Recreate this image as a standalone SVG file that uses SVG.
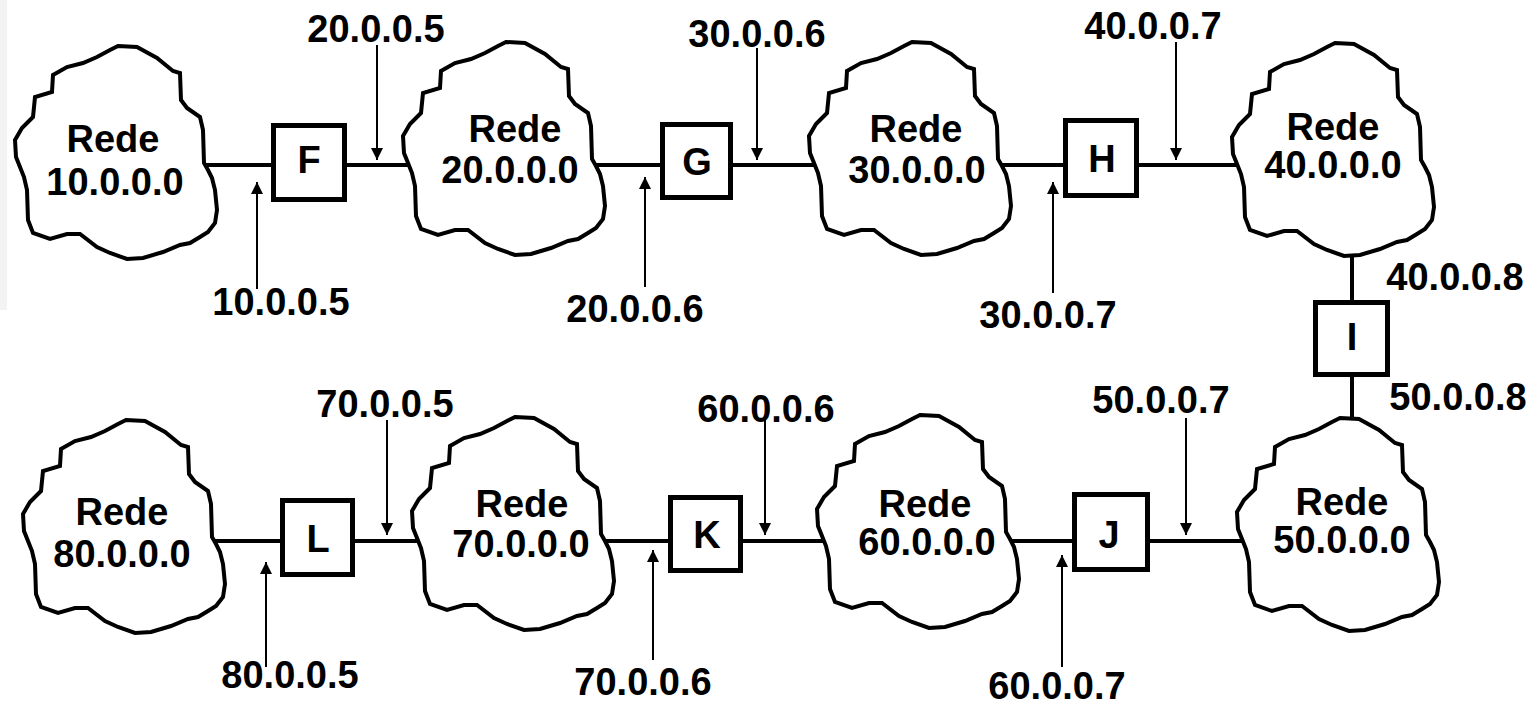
<svg xmlns="http://www.w3.org/2000/svg" xmlns:xlink="http://www.w3.org/1999/xlink" width="1537" height="706" viewBox="0 0 1537 706">
<style>
  .cloud{fill:#fff;stroke:#000;stroke-width:4;stroke-linejoin:miter}
  .box{fill:#fff;stroke:#000;stroke-width:5}
  .link{stroke:#000;stroke-width:4;fill:none}
  .arr{stroke:#000;stroke-width:2;fill:none;marker-end:url(#ah)}
  text{font-family:"Liberation Sans",Arial,sans-serif;font-weight:bold;font-size:38px;text-anchor:middle;fill:#000}
</style>
<defs>
  <marker id="ah" markerUnits="userSpaceOnUse" markerWidth="12" markerHeight="12" viewBox="0 0 12 12" refX="12" refY="6" orient="auto">
    <path d="M0,0 L12,6 L0,12 Z" fill="#000"/>
  </marker>
  <path id="cloud" class="cloud" d="M118,46 L137,47 L157,58 L173,71 L180,73 L181,100 L187,108 L200,117 L203,130 L204,163 L208,170 L212,178 L215,190 L217,210 L215,223 L208,232 L200,237 L190,243 L180,245 L163,252 L143,258 L127,259 L110,253 L97,247 L80,234 L67,234 L50,239 L33,233 L28,220 L27,190 L24,177 L20,167 L16,157 L15,140 L22,128 L33,117 L35,97 L52,92 L53,75 L67,67 L83,63 L97,57 L110,50 Z"/>
</defs>
<rect x="0" y="0" width="7" height="310" fill="#f3f3f3"/>
<g id="connectors">
  <line class="link" x1="190" y1="165" x2="300" y2="165"/>
  <line class="link" x1="310" y1="165" x2="430" y2="165"/>
  <line class="link" x1="580" y1="165" x2="700" y2="165"/>
  <line class="link" x1="700" y1="165" x2="840" y2="165"/>
  <line class="link" x1="985" y1="165" x2="1100" y2="165"/>
  <line class="link" x1="1100" y1="165" x2="1255" y2="165"/>
  <line class="link" x1="1352" y1="240" x2="1352" y2="340"/>
  <line class="link" x1="1352" y1="340" x2="1352" y2="440"/>
  <line class="link" x1="200" y1="541" x2="317" y2="541"/>
  <line class="link" x1="317" y1="541" x2="440" y2="541"/>
  <line class="link" x1="590" y1="541" x2="705" y2="541"/>
  <line class="link" x1="705" y1="541" x2="845" y2="541"/>
  <line class="link" x1="995" y1="541" x2="1111" y2="541"/>
  <line class="link" x1="1111" y1="541" x2="1265" y2="541"/>
  <line class="arr" x1="377" y1="45" x2="377" y2="160"/>
  <line class="arr" x1="757" y1="48" x2="757" y2="160"/>
  <line class="arr" x1="1176" y1="42" x2="1176" y2="160"/>
  <line class="arr" x1="387" y1="420" x2="387" y2="535"/>
  <line class="arr" x1="765" y1="420" x2="765" y2="535"/>
  <line class="arr" x1="1186" y1="418" x2="1186" y2="535"/>
  <line class="arr" x1="257" y1="289" x2="257" y2="182"/>
  <line class="arr" x1="645" y1="287" x2="645" y2="177"/>
  <line class="arr" x1="1053" y1="293" x2="1053" y2="182"/>
  <line class="arr" x1="266" y1="667" x2="266" y2="562"/>
  <line class="arr" x1="653" y1="660" x2="653" y2="550"/>
  <line class="arr" x1="1062" y1="667" x2="1062" y2="555"/>
</g>
<g id="rede10">
  <use xlink:href="#cloud"/>
  <text x="113" y="152">Rede</text>
  <text x="115" y="195">10.0.0.0</text>
</g>
<g id="rede20">
  <use xlink:href="#cloud" transform="translate(388,-4)"/>
  <text x="515" y="142">Rede</text>
  <text x="510" y="183">20.0.0.0</text>
</g>
<g id="rede30">
  <use xlink:href="#cloud" transform="translate(794,-4)"/>
  <text x="916" y="142">Rede</text>
  <text x="917" y="183">30.0.0.0</text>
</g>
<g id="rede40">
  <use xlink:href="#cloud" transform="translate(1217,-3)"/>
  <text x="1333" y="140">Rede</text>
  <text x="1333" y="178">40.0.0.0</text>
</g>
<g id="rede50">
  <use xlink:href="#cloud" transform="translate(1222,372)"/>
  <text x="1342" y="515">Rede</text>
  <text x="1342" y="553">50.0.0.0</text>
</g>
<g id="rede60">
  <use xlink:href="#cloud" transform="translate(802,369)"/>
  <text x="925" y="517">Rede</text>
  <text x="927" y="555">60.0.0.0</text>
</g>
<g id="rede70">
  <use xlink:href="#cloud" transform="translate(397,371)"/>
  <text x="522" y="517">Rede</text>
  <text x="521" y="557">70.0.0.0</text>
</g>
<g id="rede80">
  <use xlink:href="#cloud" transform="translate(8,374)"/>
  <text x="122" y="525">Rede</text>
  <text x="122" y="567">80.0.0.0</text>
</g>
<g id="F"><rect class="box" x="273.5" y="125.5" width="71" height="74"/><text x="309" y="173">F</text></g>
<g id="G"><rect class="box" x="662.5" y="124.5" width="68" height="73"/><text x="697" y="175">G</text></g>
<g id="H"><rect class="box" x="1065.5" y="120.5" width="71" height="75"/><text x="1102" y="172">H</text></g>
<g id="I"><rect class="box" x="1315.5" y="302.5" width="72" height="72"/><text x="1352" y="350">I</text></g>
<g id="J"><rect class="box" x="1074.5" y="494.5" width="73" height="75"/><text x="1109" y="548">J</text></g>
<g id="K"><rect class="box" x="670.5" y="497.5" width="70" height="73"/><text x="707" y="548">K</text></g>
<g id="L"><rect class="box" x="282.5" y="500.5" width="70" height="74"/><text x="318" y="552">L</text></g>
<g id="labels">
  <text x="281" y="315">10.0.0.5</text>
  <text x="376" y="42">20.0.0.5</text>
  <text x="635" y="322">20.0.0.6</text>
  <text x="757" y="47">30.0.0.6</text>
  <text x="1048" y="328">30.0.0.7</text>
  <text x="1153" y="39">40.0.0.7</text>
  <text x="1455" y="290">40.0.0.8</text>
  <text x="1458" y="410">50.0.0.8</text>
  <text x="1161" y="413">50.0.0.7</text>
  <text x="1057" y="699">60.0.0.7</text>
  <text x="766" y="422">60.0.0.6</text>
  <text x="643" y="695">70.0.0.6</text>
  <text x="385" y="417">70.0.0.5</text>
  <text x="290" y="688">80.0.0.5</text>
</g>
</svg>
